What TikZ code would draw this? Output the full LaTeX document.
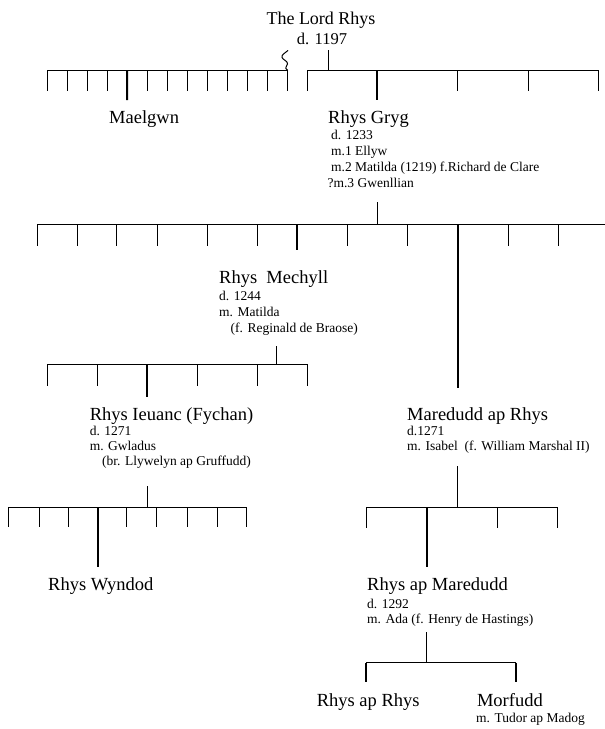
\documentclass[tikz,border=0pt]{standalone}
\usepackage{fontspec}
\setmainfont{Liberation Serif}
\begin{document}
\begin{tikzpicture}[x=1pt,y=-1pt,
  nm/.style={anchor=base west, inner sep=0pt, font=\fontsize{18.5}{20}\selectfont},
  sm/.style={anchor=base west, inner sep=0pt, font=\fontsize{13.5}{15}\selectfont},
  ln/.style={line width=1pt, line cap=rect},
  lnk/.style={line width=2pt},
]
\useasboundingbox (0,0) rectangle (605,729);

% ---------- texts ----------
\node[anchor=base, inner sep=0pt, font=\fontsize{18}{20}\selectfont] (lord) at (321,24) {The Lord Rhys};
\node[anchor=base, inner sep=0pt, font=\fontsize{16.5}{18}\selectfont] (lordd) at (322,44.3) {d. 1197};

\node[nm] (mael) at (109,123) {Maelgwn};
\node[nm] (gryg) at (328,123) {Rhys Gryg};
\node[sm] (gryg1) at (331,139) {d. 1233};
\node[sm] (gryg2) at (331,155) {m.1 Ellyw};
\node[sm] (gryg3) at (331,171.5) {m.2 Matilda (1219) f.Richard de Clare};
\node[sm] (gryg4) at (327.4,187.5) {?m.3 Gwenllian};

\node[nm] (mech) at (219,283) {Rhys~~Mechyll};
\node[sm] (mech1) at (219,300.5) {d. 1244};
\node[sm] (mech2) at (219,316.5) {m. Matilda};
\node[sm] (mech3) at (230.5,332) {(f. Reginald de Braose)};

\node[nm] (ieu) at (89.6,420) {Rhys Ieuanc (Fychan)};
\node[sm] (ieu1) at (89.6,435) {d. 1271};
\node[sm] (ieu2) at (89.6,450) {m. Gwladus};
\node[sm] (ieu3) at (102,465.7) {(br. Llywelyn ap Gruffudd)};

\node[nm] (mar) at (407,420) {Maredudd ap Rhys};
\node[sm] (mar1) at (407,435) {d.1271};
\node[sm] (mar2) at (407,450) {m. Isabel~~(f. William Marshal II)};

\node[nm] (wyn) at (48,590) {Rhys Wyndod};

\node[nm] (rapm) at (367,590) {Rhys ap Maredudd};
\node[sm] (rapm1) at (367,608) {d. 1292};
\node[sm] (rapm2) at (367,623.3) {m. Ada (f. Henry de Hastings)};

\node[nm] (rapr) at (316.6,706) {Rhys ap Rhys};
\node[nm] (morf) at (476.8,706) {Morfudd};
\node[sm] (morf1) at (476,722.7) {m. Tudor ap Madog};

% ---------- row 1 ----------
\coordinate (s1a) at (328.3,50.7);
\coordinate (s1b) at (328.3,70);
\draw[ln] (s1a) -- (s1b);
\coordinate (b1La) at (47,70);
\coordinate (b1Lb) at (287.5,70);
\draw[ln] (b1La) -- (b1Lb);
\coordinate (sq0) at (287.7,50.7);
\draw[ln] (sq0) .. controls (285,53) and (281,55) .. (282,57.5)
  .. controls (283,60) and (288,61) .. (287.5,64)
  .. controls (287,66.5) and (284,68) .. (b1Lb);
\foreach \i in {0,...,12}{
  \coordinate (t1L\i) at ({47+20.02*\i},70);
  \coordinate (e1L\i) at ({47+20.02*\i},90);
  \ifnum\i=4\else\draw[ln] (t1L\i) -- (e1L\i);\fi
}
\coordinate (e1Lm) at (127.1,100);
\draw[lnk] (t1L4) -- (e1Lm);
\coordinate (b1Ra) at (307.7,70);
\coordinate (b1Rb) at (598,70);
\draw[ln] (b1Ra) -- (b1Rb);
\foreach \x [count=\k] in {307.7,457.9,528.4,598}{
  \coordinate (t1R\k) at (\x,70);
  \coordinate (e1R\k) at (\x,90.5);
  \draw[ln] (t1R\k) -- (e1R\k);
}
\coordinate (t1Rg) at (377.2,70);
\coordinate (e1Rg) at (377.2,100);
\draw[lnk] (t1Rg) -- (e1Rg);

% ---------- row 2 ----------
\coordinate (s2a) at (377.2,202.7);
\coordinate (s2b) at (377.2,224.5);
\draw[ln] (s2a) -- (s2b);
\coordinate (b2a) at (37.3,224.5);
\coordinate (b2b) at (605,224.5);
\draw[ln] (b2a) -- (b2b);
\foreach \x [count=\k] in {37.3,77.2,116.8,157.5,207.1,257.1,347.4,407.5,508.2,558.6}{
  \coordinate (t2\k) at (\x,224.5);
  \coordinate (e2\k) at (\x,245);
  \draw[ln] (t2\k) -- (e2\k);
}
\coordinate (t2m) at (297,224.5);
\coordinate (e2m) at (297,250);
\draw[lnk] (t2m) -- (e2m);
\coordinate (t2r) at (457.5,224.5);
\coordinate (e2r) at (457.5,388);
\draw[lnk] (t2r) -- (e2r);

% ---------- row 3 (Mechyll) ----------
\coordinate (s3a) at (276.8,346);
\coordinate (s3b) at (276.8,364.5);
\draw[ln] (s3a) -- (s3b);
\coordinate (b3a) at (47,364.5);
\coordinate (b3b) at (307.5,364.5);
\draw[ln] (b3a) -- (b3b);
\foreach \x [count=\k] in {47,97.4,197.4,257.1,307.5}{
  \coordinate (t3\k) at (\x,364.5);
  \coordinate (e3\k) at (\x,385.7);
  \draw[ln] (t3\k) -- (e3\k);
}
\coordinate (t3m) at (147,364.5);
\coordinate (e3m) at (147,396.7);
\draw[lnk] (t3m) -- (e3m);

% ---------- row 4 left (Ieuanc) ----------
\coordinate (s4a) at (147.5,486.7);
\coordinate (s4b) at (147.5,507);
\draw[ln] (s4a) -- (s4b);
\coordinate (b4a) at (8.3,507);
\coordinate (b4b) at (246.6,507);
\draw[ln] (b4a) -- (b4b);
\foreach \x [count=\k] in {8.3,39,68.3,126.5,156.7,187.3,217.5,246.6}{
  \coordinate (t4\k) at (\x,507);
  \coordinate (e4\k) at (\x,526.7);
  \draw[ln] (t4\k) -- (e4\k);
}
\coordinate (t4m) at (97.7,507);
\coordinate (e4m) at (97.7,566.7);
\draw[lnk] (t4m) -- (e4m);

% ---------- row 4 right (Maredudd) ----------
\coordinate (s5a) at (457.5,466.7);
\coordinate (s5b) at (457.5,507);
\draw[ln] (s5a) -- (s5b);
\coordinate (b5a) at (366.8,507);
\coordinate (b5b) at (557.5,507);
\draw[ln] (b5a) -- (b5b);
\foreach \x [count=\k] in {366.8,497.8,557.5}{
  \coordinate (t5\k) at (\x,507);
  \coordinate (e5\k) at (\x,527);
  \draw[ln] (t5\k) -- (e5\k);
}
\coordinate (t5m) at (426.9,507);
\coordinate (e5m) at (426.9,566.7);
\draw[lnk] (t5m) -- (e5m);

% ---------- row 5 ----------
\coordinate (s6a) at (426,632.7);
\coordinate (s6b) at (426,662.7);
\draw[ln] (s6a) -- (s6b);
\coordinate (b6a) at (366,662.7);
\coordinate (b6b) at (515.7,662.7);
\draw[ln] (b6a) -- (b6b);
\coordinate (e6a) at (366,682.3);
\coordinate (e6b) at (515.7,682.3);
\draw[lnk] (b6a) -- (e6a);
\draw[lnk] (b6b) -- (e6b);
\end{tikzpicture}
\end{document}
